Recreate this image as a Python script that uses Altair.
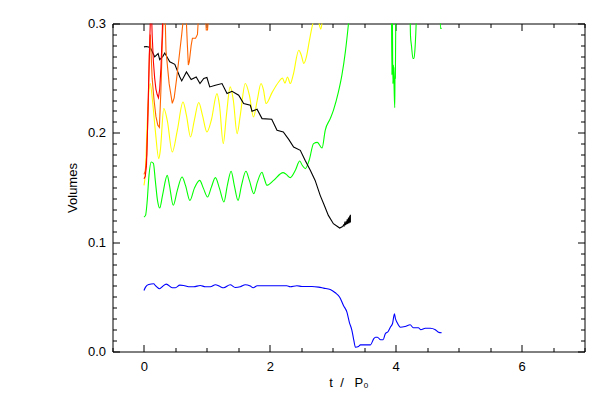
import altair as alt
import pandas as pd

# ---------------- data ----------------
black_x = [0, 0.04, 0.10, 0.17, 0.225, 0.25, 0.30, 0.33, 0.41, 0.49, 0.57, 0.60, 0.675, 0.75, 0.83, 0.89,
           0.95, 1.0, 1.045, 1.135, 1.24, 1.32, 1.40, 1.505, 1.584, 1.69, 1.717, 1.797, 1.876, 2.03, 2.114,
           2.214, 2.30, 2.378, 2.484, 2.56, 2.643, 2.72, 2.80, 2.865, 2.93, 3.01, 3.11, 3.15, 3.16, 3.17,
           3.18, 3.19, 3.20, 3.21, 3.22, 3.23, 3.24, 3.25, 3.26, 3.27, 3.28, 3.28]
black_y = [0.2786, 0.279, 0.278, 0.2695, 0.2725, 0.267, 0.27, 0.273, 0.265, 0.2627, 0.2511, 0.2475, 0.2557,
           0.2487, 0.2511, 0.2451, 0.2497, 0.2506, 0.242, 0.2435, 0.2451, 0.2359, 0.238, 0.2344, 0.2268,
           0.2252, 0.2197, 0.2216, 0.213, 0.2124, 0.2023, 0.2008, 0.194, 0.187, 0.184, 0.1749, 0.1657,
           0.1565, 0.1428, 0.1337, 0.1245, 0.1169, 0.1129, 0.1140, 0.1144, 0.1157, 0.1150, 0.1174, 0.1156,
           0.1191, 0.1162, 0.1208, 0.1168, 0.1225, 0.1174, 0.1242, 0.1180, 0.1251]

yellow_x = [0, 0.025, 0.05, 0.10, 0.135, 0.18, 0.235, 0.26, 0.315, 0.37, 0.45, 0.53, 0.62, 0.675, 0.74,
            0.80, 0.87, 0.93, 1.00, 1.07, 1.16, 1.20, 1.26, 1.31, 1.37, 1.42, 1.48, 1.53, 1.61, 1.675, 1.74,
            1.80, 1.86, 1.90, 1.94, 2.035, 2.14, 2.20, 2.24, 2.28, 2.325, 2.37, 2.46, 2.50, 2.54, 2.58,
            2.63, 2.685, 2.74, 2.77, 2.81, 2.845, 2.88, 3.0]
yellow_y = [0.152, 0.1657, 0.2069, 0.2451, 0.2298, 0.2023, 0.1764, 0.184, 0.2222, 0.2115, 0.1825, 0.2023,
            0.2282, 0.216, 0.1962, 0.2115, 0.2277, 0.216, 0.2008, 0.2115, 0.2359, 0.2252, 0.1902, 0.216,
            0.242, 0.2298, 0.1993, 0.216, 0.2451, 0.2344, 0.2145, 0.2298, 0.2451, 0.239, 0.2268, 0.2368,
            0.2465, 0.25, 0.2454, 0.2511, 0.2451, 0.2527, 0.2756, 0.271, 0.2634, 0.2692, 0.2847, 0.3003,
            0.3076, 0.303, 0.2948, 0.3076, 0.32, 0.34]

green_x = [0, 0.025, 0.05, 0.08, 0.115, 0.15, 0.18, 0.215, 0.25, 0.295, 0.37, 0.405, 0.465, 0.53, 0.605,
           0.66, 0.73, 0.80, 0.885, 0.945, 1.01, 1.07, 1.135, 1.20, 1.27, 1.325, 1.385, 1.435, 1.495, 1.55,
           1.62, 1.675, 1.745, 1.80, 1.875, 1.91, 1.955, 2.06, 2.21, 2.26, 2.325, 2.405, 2.475, 2.515,
           2.565, 2.625, 2.695, 2.755, 2.83, 2.88, 2.96, 3.01, 3.09, 3.145, 3.20, 3.25, 3.30, 3.50, 3.70,
           3.93, 3.94, 3.945, 3.955, 3.965, 3.975, 3.985, 3.99, 3.995, 4.005, 4.10, 4.22, 4.235, 4.25,
           4.275, 4.29, 4.31, 4.325, 4.34, 4.50, 4.70, 4.71, 4.73]
green_y = [0.123, 0.1245, 0.1367, 0.1611, 0.1733, 0.1721, 0.1565, 0.1382, 0.1312, 0.1428, 0.1611, 0.152,
           0.1337, 0.1474, 0.1596, 0.152, 0.1382, 0.1492, 0.1565, 0.1492, 0.1413, 0.1501, 0.159, 0.1492,
           0.1367, 0.152, 0.1648, 0.152, 0.1382, 0.152, 0.1648, 0.1565, 0.1444, 0.1547, 0.1639, 0.1584,
           0.152, 0.1565, 0.1636, 0.162, 0.159, 0.1657, 0.1742, 0.1703, 0.1673, 0.1749, 0.1901, 0.1913,
           0.1861, 0.2023, 0.213, 0.2206, 0.2374, 0.2527, 0.274, 0.30, 0.33, 0.37, 0.37, 0.34, 0.253,
           0.32, 0.245, 0.262, 0.24, 0.223, 0.26, 0.25, 0.34, 0.36, 0.34, 0.289, 0.28, 0.268, 0.268,
           0.28, 0.30, 0.34, 0.36, 0.34, 0.2955, 0.2955]

blue_x = [0, 0.025, 0.075, 0.155, 0.18, 0.25, 0.295, 0.355, 0.45, 0.50, 0.57, 0.63, 0.71, 0.79, 0.895,
          0.975, 1.055, 1.135, 1.215, 1.265, 1.37, 1.45, 1.53, 1.61, 1.69, 1.735, 1.80, 2.01, 2.27, 2.325,
          2.43, 2.51, 2.67, 2.775, 2.855, 2.96, 3.04, 3.11, 3.17, 3.225, 3.265, 3.305, 3.335, 3.36, 3.41,
          3.44, 3.60, 3.65, 3.68, 3.71, 3.76, 3.80, 3.835, 3.88, 3.915, 3.95, 3.98, 3.995, 4.02, 4.075,
          4.15, 4.23, 4.28, 4.36, 4.40, 4.47, 4.55, 4.63, 4.68, 4.73]
blue_y = [0.0558, 0.0589, 0.0613, 0.062, 0.0604, 0.0574, 0.0595, 0.0616, 0.0583, 0.0583, 0.0607, 0.0604,
          0.0592, 0.0592, 0.0604, 0.0592, 0.0592, 0.0611, 0.0592, 0.0583, 0.0611, 0.0586, 0.0592, 0.0611,
          0.0598, 0.0583, 0.0601, 0.0601, 0.0601, 0.0592, 0.0601, 0.0595, 0.0595, 0.0589, 0.058, 0.0568,
          0.0537, 0.0497, 0.0421, 0.036, 0.0265, 0.0192, 0.0101, 0.0039, 0.0046, 0.0061, 0.0061, 0.0116,
          0.0131, 0.0131, 0.0107, 0.0107, 0.0162, 0.0183, 0.0222, 0.0256, 0.0345, 0.0302, 0.0268, 0.0222,
          0.0229, 0.0244, 0.0217, 0.0217, 0.0199, 0.0213, 0.0213, 0.0199, 0.0177, 0.0171]

red_x = [0, 0.02, 0.04, 0.055, 0.07, 0.085, 0.10, 0.115, 0.13, 0.15, 0.17, 0.19, 0.21, 0.23, 0.25, 0.27,
         0.29, 0.31, 0.40]
red_y = [0.158, 0.16, 0.17, 0.20, 0.235, 0.27, 0.30, 0.32, 0.29, 0.265, 0.25, 0.24, 0.235, 0.232, 0.24,
         0.26, 0.29, 0.33, 0.36]

orange_x = [0, 0.02, 0.045, 0.065, 0.085, 0.10, 0.115, 0.13, 0.16, 0.19, 0.22, 0.245, 0.27, 0.29, 0.31,
            0.335, 0.35, 0.40, 0.45, 0.48, 0.52, 0.56, 0.60, 0.635, 0.66, 0.69, 0.705, 0.72, 0.75, 0.77,
            0.82, 0.85, 0.87, 0.92, 0.975, 0.99, 1.01, 1.03, 1.06, 1.2]
orange_y = [0.162, 0.165, 0.18, 0.22, 0.27, 0.29, 0.27, 0.25, 0.23, 0.215, 0.207, 0.205, 0.24, 0.28, 0.31,
            0.31, 0.275, 0.245, 0.227, 0.232, 0.25, 0.27, 0.29, 0.31, 0.32, 0.28, 0.262, 0.265, 0.28,
            0.2865, 0.2865, 0.29, 0.31, 0.33, 0.31, 0.294, 0.294, 0.31, 0.33, 0.36]

series_names = ["blue", "green", "yellow", "black", "orange", "red"]
series_colors = ["#0000FF", "#00FF00", "#FFFF00", "#000000", "#FF6400", "#FF0000"]

x_ticks = [-0.5 + 0.5 * k for k in range(16)]      # minor every 0.5, labelled every 2
y_ticks = [round(0.01 * k, 2) for k in range(31)]  # minor every 0.01, labelled every 0.1

# ---------------- build table ----------------
def table(name, xs, ys):
    return pd.DataFrame({"series": name, "t": xs, "v": ys, "i": list(range(len(xs)))})

smooth = pd.concat([table("blue", blue_x, blue_y), table("green", green_x, green_y),
                    table("yellow", yellow_x, yellow_y)])
sharp = pd.concat([table("black", black_x, black_y), table("orange", orange_x, orange_y),
                   table("red", red_x, red_y)])
allpts = pd.concat([smooth, sharp])

xs = alt.Scale(domain=[-0.5, 7], nice=False, zero=False)
ys = alt.Scale(domain=[0, 0.3], nice=False, zero=False)
cs = alt.Scale(domain=series_names, range=series_colors)

FONT = "Liberation Sans"
X_MAJOR = "datum.value % 2 == 0"
Y_MAJOR = "abs(datum.value * 10 - round(datum.value * 10)) < 0.000001"
MINOR_DASH = [0, 3, 10]   # inward tick of 4 px on a 7 px tick
MAJOR_DASH = [10, 0]

def dash(test):
    return {"condition": {"test": test, "value": MAJOR_DASH}, "value": MINOR_DASH}

x_main = alt.Axis(orient="bottom", values=x_ticks, tickSize=7, offset=-7, domain=False,
                  tickDash=dash(X_MAJOR), labelOverlap=False,
                  labelExpr=f"{X_MAJOR} ? format(datum.value, 'd') : ''",
                  labelPadding=9, title="t\u00a0\u00a0/\u00a0\u00a0\u00a0P\u2080", titleX=236, titleY=42,
                  titleBaseline="alphabetic", titleFontSize=13)
y_main = alt.Axis(orient="left", values=y_ticks, tickSize=7, offset=-7, domain=False,
                  tickDash=dash(Y_MAJOR), labelOverlap=False,
                  labelExpr=f"{Y_MAJOR} ? format(datum.value, '.1f') : ''",
                  labelPadding=7, title="Volumes", titleX=-43.5, titleY=164, titleBaseline="alphabetic",
                  titleFontSize=13)
x_top = alt.Axis(orient="top", values=x_ticks, tickSize=7, offset=-7, domain=False,
                 tickDash=dash(X_MAJOR), labels=False, title="")
y_right = alt.Axis(orient="right", values=y_ticks, tickSize=7, offset=-7, domain=False,
                   tickDash=dash(Y_MAJOR), labels=False, title="")

base_enc = dict(color=alt.Color("series:N", scale=cs, legend=None), order=alt.Order("i:Q"))

smooth_layer = alt.Chart(smooth).mark_line(strokeWidth=1.1, clip=True, interpolate="monotone").encode(
    x=alt.X("t:Q", scale=xs, axis=x_main),
    y=alt.Y("v:Q", scale=ys, axis=y_main),
    **base_enc,
)
opposite = alt.Chart(allpts).mark_point(opacity=0, size=1, clip=True).encode(
    x=alt.X("t:Q", scale=xs, axis=x_top),
    y=alt.Y("v:Q", scale=ys, axis=y_right),
)
sharp_layer = alt.Chart(sharp).mark_line(strokeWidth=1.1, clip=True).encode(
    x=alt.X("t:Q", scale=xs, axis=None),
    y=alt.Y("v:Q", scale=ys, axis=None),
    **base_enc,
)

chart = (
    alt.layer(smooth_layer, opposite, sharp_layer)
    .resolve_axis(x="independent", y="independent")
    .properties(width=472, height=328, autosize="none",
                padding={"left": 104.5, "top": 15.5, "right": 7, "bottom": 40})
    .configure_view(stroke="#000000", strokeWidth=1)
    .configure_axis(grid=False, tickColor="#000000", tickWidth=1, labelColor="#000000",
                    titleColor="#000000", labelFont=FONT, titleFont=FONT, labelFontSize=13,
                    titleFontWeight="normal")
)

chart.save("out.html", embed_options={"renderer": "svg", "actions": False})
